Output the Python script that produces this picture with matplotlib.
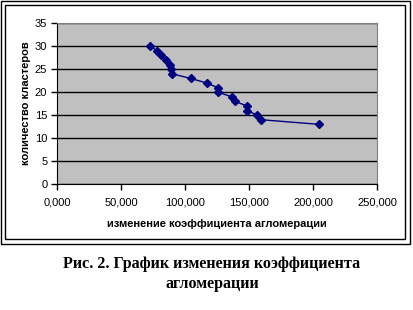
import matplotlib
matplotlib.use("Agg")
import matplotlib.pyplot as plt
from matplotlib.patches import Rectangle

x_values = [72.7, 78.4, 81.5, 85.1, 88.3, 89.1, 89.8, 104.4, 116.9, 125.5, 125.8,
            136.4, 139.0, 148.4, 148.6, 156.3, 159.6, 204.4]  # thousands
y_values = [30, 29, 28, 27, 26, 25, 24, 23, 22, 21, 20, 19, 18, 17, 16, 15, 14, 13]
x_ticks = [0, 50, 100, 150, 200, 250]
x_tick_labels = ["0,000", "50,000", "100,000", "150,000", "200,000", "250,000"]
y_ticks = [0, 5, 10, 15, 20, 25, 30, 35]

W, H = 414, 310
fig = plt.figure(figsize=(W / 100, H / 100), dpi=100)
fig.patch.set_facecolor("white")

# double frame
for (x0, y0, x1, y1) in [(1, 1, 410, 244), (5, 5, 405, 239)]:
    fig.add_artist(Rectangle((x0 / W, 1 - y1 / H), (x1 - x0) / W, (y1 - y0) / H,
                             transform=fig.transFigure, fill=False,
                             edgecolor="black", linewidth=1.0))

ax = fig.add_axes([57 / W, 1 - 184 / H, (377 - 57) / W, (184 - 23.3) / H])
ax.set_facecolor("#C0C0C0")
ax.plot(x_values, y_values, color="#000080", linewidth=1.0, marker="D",
        markersize=3.6, markerfacecolor="#000080", markeredgecolor="#000080",
        zorder=3)
ax.set_xlim(0, 250)
ax.set_ylim(0, 35)
ax.set_xticks(x_ticks)
ax.set_xticklabels(x_tick_labels)
ax.set_yticks(y_ticks)
ax.yaxis.grid(True, color="black", linewidth=1.0)
ax.set_axisbelow(True)
for s in ["top", "right"]:
    ax.spines[s].set_color("#808080")
for s in ["left", "bottom"]:
    ax.spines[s].set_color("black")
ax.tick_params(axis="both", direction="out", length=4, width=1, colors="black",
               labelsize=8, pad=3)
for lab in ax.get_xticklabels() + ax.get_yticklabels():
    lab.set_family("Liberation Sans")
ax.tick_params(axis="x", pad=6)

ax.set_xlabel("изменение коэффициента агломерации", fontsize=8, fontweight="bold",
              family="Liberation Sans", labelpad=8)
ax.set_ylabel("количество кластеров", fontsize=8, fontweight="bold",
              family="Liberation Sans", labelpad=3)

fig.text(212 / W, 1 - 264 / H, "Рис. 2. График изменения коэффициента",
         ha="center", va="center", fontsize=11.5, fontweight="bold",
         family="Liberation Serif")
fig.text(212 / W, 1 - 284 / H, "агломерации",
         ha="center", va="center", fontsize=11.5, fontweight="bold",
         family="Liberation Serif")

fig.savefig("out.png", dpi=100)
